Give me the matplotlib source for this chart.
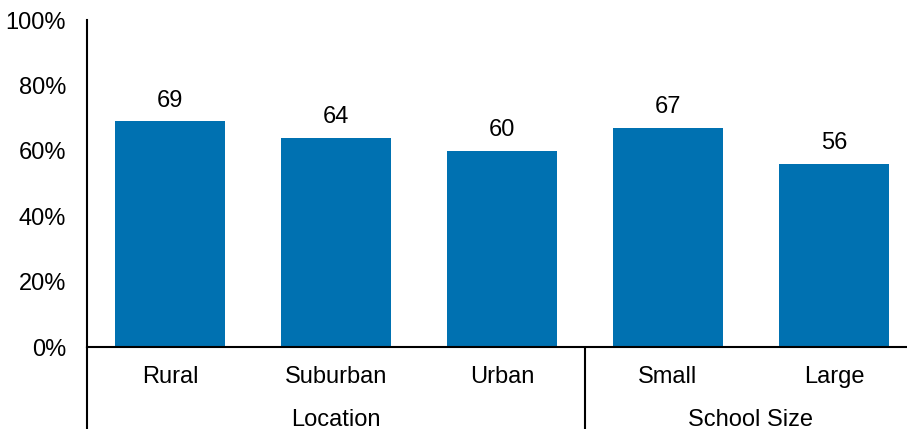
import matplotlib
matplotlib.use("Agg")
import matplotlib.pyplot as plt
from matplotlib.ticker import FuncFormatter

categories = ["Rural", "Suburban", "Urban", "Small", "Large"]
values = [69, 64, 60, 67, 56]
groups = ["Location", "School Size"]
group_sizes = [3, 2]
yticks = [0, 20, 40, 60, 80, 100]

plt.rcParams['font.family'] = ['Liberation Sans', 'DejaVu Sans']

W, H = 907, 429
FS = 17
fig = plt.figure(figsize=(W / 100, H / 100), dpi=100)
ax = fig.add_axes([87 / W, (H - 347) / H, (W - 87) / W, (347 - 20) / H])

x = list(range(len(categories)))
color = "#0071B1"
ax.bar(x, values, width=0.66, color=color)
for xi, v in zip(x, values):
    ax.annotate(f"{v}", (xi, v), xytext=(0, 7), textcoords="offset points",
                ha="center", va="bottom", fontsize=FS)

ax.set_ylim(0, 100)
ax.set_yticks(yticks)
ax.yaxis.set_major_formatter(FuncFormatter(lambda v, p: f"{int(v)}%"))
ax.tick_params(axis="y", length=0, labelsize=FS, pad=15)
slot = (907 - 87 + 10) / 5
ax.set_xlim(-0.5, -0.5 + (W - 87) / slot)
ax.set_xticks([])

for s in ["top", "right"]:
    ax.spines[s].set_visible(False)
for s in ["left", "bottom"]:
    ax.spines[s].set_linewidth(1.5)
    ax.spines[s].set_color("black")

trans = ax.get_xaxis_transform()
for xi, c in zip(x, categories):
    ax.text(xi, -30 / 327, c, transform=trans, ha="center", va="center", fontsize=FS)

start = 0
bounds = [-0.5]
for g, n in zip(groups, group_sizes):
    center = start + (n - 1) / 2
    ax.text(center, -73 / 327, g, transform=trans, ha="center", va="center", fontsize=FS)
    start += n
    bounds.append(start - 0.5)

for b in bounds[:-1]:
    ax.plot([b, b], [0, -90 / 327], transform=trans, color="black", lw=1.5,
            clip_on=False, solid_capstyle="butt")

fig.savefig("out.png", dpi=100)
